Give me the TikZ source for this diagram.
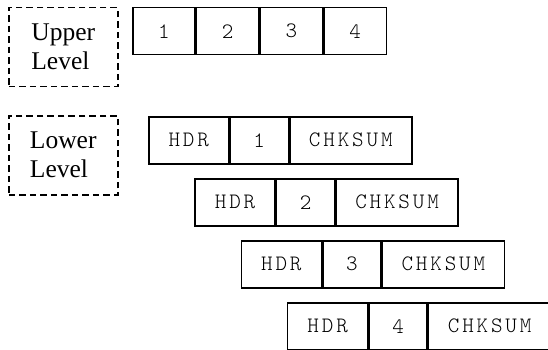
\documentclass[tikz,border=0pt]{standalone}
\usepackage{fontspec}
\setmainfont{Liberation Serif}
\setmonofont[LetterSpace=13]{Latin Modern Mono Light}
\begin{document}
\begin{tikzpicture}[x=1pt,y=-1pt,
  cell/.style={draw, line width=1.5pt, inner sep=0pt, minimum height=47pt,
    anchor=north west, font=\fontsize{22}{26}\selectfont\ttfamily},
  lvlbox/.style={draw, dashed, dash pattern=on 6.5pt off 4pt, line width=1.5pt,
    inner sep=0pt, minimum width=109pt, minimum height=79pt, anchor=north west,
    align=left, font=\fontsize{25.5}{29}\selectfont}]
  \useasboundingbox (0,0) rectangle (548,350);

  % level labels
  \node[lvlbox] (upper) at (8,7) {Upper\\Level};
  \node[lvlbox] (lower) at (8,115) {Lower\\Level};

  % upper-level message split into four pieces
  \node[cell, minimum width=62.25pt] (u1) at (132,7) {1};
  \node[cell, minimum width=62.25pt] (u2) at (u1.north east) {2};
  \node[cell, minimum width=62.25pt] (u3) at (u2.north east) {3};
  \node[cell, minimum width=62.25pt] (u4) at (u3.north east) {4};

  % lower-level frames: header, payload, checksum
  \foreach \r in {1,2,3,4}{
    \node[cell, minimum width=80pt] (h\r) at ({148+(\r-1)*46.3},{116+(\r-1)*62}) {HDR};
    \node[cell, minimum width=58pt] (n\r) at (h\r.north east) {\r};
    \node[cell, minimum width=122pt] (c\r) at (n\r.north east) {CHKSUM};
  }
\end{tikzpicture}
\end{document}
